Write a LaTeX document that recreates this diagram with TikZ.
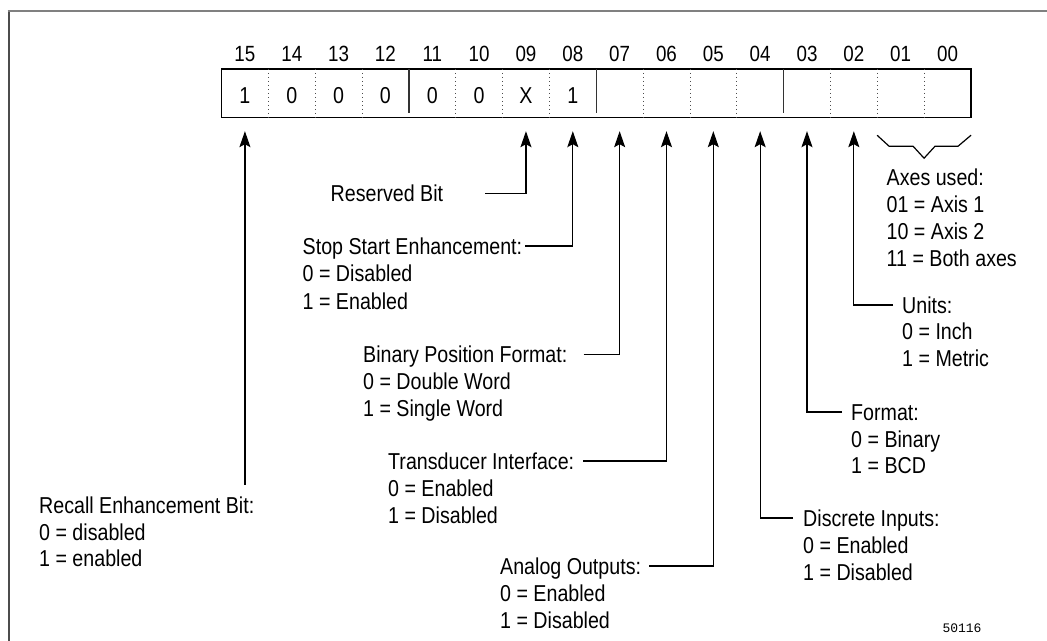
\documentclass[tikz,border=0pt]{standalone}
\usepackage{fontspec}
\setmainfont{Liberation Sans}[FakeStretch=0.854]
\newfontfamily\codefont{Liberation Mono}
\usetikzlibrary{arrows.meta,calc}

\tikzset{
  cell/.style={minimum width=46.84pt, minimum height=48pt, inner sep=0pt, draw=none},
  bitnum/.style={font=\fontsize{22}{27}\selectfont, inner sep=0pt, anchor=base},
  bitval/.style={font=\fontsize{23}{27}\selectfont, inner sep=0pt, anchor=base},
  frame/.style={line width=2pt},
  regbox/.style={line width=1.4pt},
  dotdiv/.style={line width=1pt, black!70, dash pattern=on 1pt off 3pt},
  soliddiv/.style={line width=1.4pt, black!80},
  lbl/.style={font=\fontsize{23}{27}\selectfont, inner sep=0pt, anchor=base west},
  ttl/.style={lbl, text height=16pt, text depth=0pt},
  arr/.style={line width=1.2pt, -{Stealth[length=16pt, width=11pt, inset=3pt]}, shorten >=14pt},
  lead/.style={line width=1.2pt},
}

\begin{document}
\begin{tikzpicture}[x=1pt, y=-1pt]
  \useasboundingbox (0,0) rectangle (1047,640);
  \fill[white] (0,0) rectangle (1047,640);

  % outer frame (runs off the right and bottom edges)
  \draw[frame, black!70] (8.5,645) -- (8.5,11);
  \draw[frame, black!50] (7.5,11) -- (1050,11);

  % the sixteen bit cells, bit 15 on the left
  \foreach \i in {0,...,15} {
    \pgfmathtruncatemacro\b{15-\i}
    \node[cell] (c\b) at ({221.5+46.84*(\i+0.5)},93) {};
    \node[bitnum] at ([yshift=7pt]c\b.north) {\ifnum\b<10 0\fi\b};
  }

  % register outline and dividers
  \draw[regbox] (c15.north west) rectangle (c0.south east);
  \foreach \b in {15,14,13,11,10,9,7,6,5,3,2,1}
    \draw[dotdiv] (c\b.north east) -- (c\b.south east);
  \foreach \b in {12,8,4}
    \draw[soliddiv] (c\b.north east) -- ([yshift=4pt]c\b.south east);

  % bit values
  \node[bitval] at ([yshift=-10pt]c15.center) {1};
  \node[bitval] at ([yshift=-10pt]c14.center) {0};
  \node[bitval] at ([yshift=-10pt]c13.center) {0};
  \node[bitval] at ([yshift=-10pt]c12.center) {0};
  \node[bitval] at ([yshift=-10pt]c11.center) {0};
  \node[bitval] at ([yshift=-10pt]c10.center) {0};
  \node[bitval] at ([yshift=-10pt]c9.center) {X};
  \node[bitval] at ([yshift=-10pt]c8.center) {1};

  % brace under bits 01 and 00
  \draw[lead] ([yshift=-18pt]c1.south west) -- ++(12,11) -- ++(24,0) -- ++(11,12)
    -- ++(11,-12) -- ++(23,0) -- ++(13,-11);

  % field descriptions
  \node[ttl] (recall) at (39,513) {Recall Enhancement Bit:};
  \node[lbl] (recall0) at (39,540) {0 = disabled};
  \node[lbl] (recall1) at (39,566.5) {1 = enabled};

  \node[ttl] (res) at (330.5,201.7) {Reserved Bit};

  \node[ttl] (stop) at (302.5,254) {Stop Start Enhancement:};
  \node[lbl] (stop0) at (302.5,281.5) {0 = Disabled};
  \node[lbl] (stop1) at (302.5,309) {1 = Enabled};

  \node[ttl] (bin) at (363,362.7) {Binary Position Format:};
  \node[lbl] (bin0) at (363,389) {0 = Double Word};
  \node[lbl] (bin1) at (363,416) {1 = Single Word};

  \node[ttl] (trans) at (388,469) {Transducer Interface:};
  \node[lbl] (trans0) at (388,496) {0 = Enabled};
  \node[lbl] (trans1) at (388,523) {1 = Disabled};

  \node[ttl] (ana) at (500,574) {Analog Outputs:};
  \node[lbl] (ana0) at (500,601) {0 = Enabled};
  \node[lbl] (ana1) at (500,628) {1 = Disabled};

  \node[ttl] (disc) at (803,526) {Discrete Inputs:};
  \node[lbl] (disc0) at (803,553.5) {0 = Enabled};
  \node[lbl] (disc1) at (803,580.5) {1 = Disabled};

  \node[ttl] (fmt) at (851,420) {Format:};
  \node[lbl] (fmt0) at (851,447) {0 = Binary};
  \node[lbl] (fmt1) at (851,473) {1 = BCD};

  \node[ttl] (units) at (902,313) {Units:};
  \node[lbl] (units0) at (902,339) {0 = Inch};
  \node[lbl] (units1) at (902,366) {1 = Metric};

  \node[ttl] (axes) at (886.5,185) {Axes used:};
  \node[lbl] (axes1) at (886.5,212.5) {01 = Axis 1};
  \node[lbl] (axes2) at (886.5,239.5) {10 = Axis 2};
  \node[lbl] (axes3) at (886.5,266.5) {11 = Both axes};

  % leaders with arrows up to the bits
  \coordinate (recalltop) at ([yshift=12pt]recall.north);
  \draw[arr] (recalltop -| c15.south) -- (c15.south);
  \draw[arr] ([xshift=42pt]res.east) -| (c9.south);
  \draw[arr] ([xshift=3pt]stop.east) -| (c8.south);
  \draw[arr] ([xshift=16pt]bin.east) -| (c7.south);
  \draw[arr] ([xshift=9pt]trans.east) -| (c6.south);
  \draw[arr] ([xshift=8pt]ana.east) -| (c5.south);
  \draw[arr] ([xshift=-10pt]disc.west) -| (c4.south);
  \draw[arr] ([xshift=-9pt]fmt.west) -| (c3.south);
  \draw[arr] ([xshift=-9pt]units.west) -| (c2.south);

  % drawing number
  \node[font=\codefont\fontsize{13}{15}\selectfont, inner sep=0pt] (num) at (962,628) {50116};
\end{tikzpicture}
\end{document}
